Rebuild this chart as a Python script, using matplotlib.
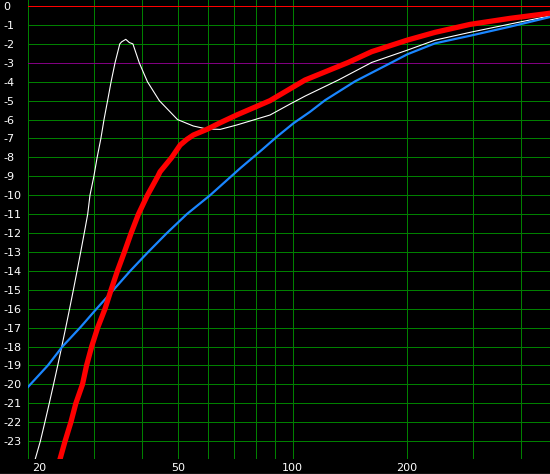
import matplotlib
matplotlib.use('Agg')
import matplotlib.pyplot as plt
import matplotlib.transforms as mtransforms
from matplotlib.lines import Line2D

# frequency (Hz) / level (dB)
white_f = [20.9, 21.6, 22.2, 22.8, 23.4, 24.0, 24.6, 25.2, 25.8, 26.4, 27.0, 27.6,
           28.2, 28.8, 29.2, 29.9, 30.5, 31.2, 31.8, 32.5, 33.2, 34.0, 35.0, 35.4,
           36.3, 37.1, 37.9, 39.4, 41.4, 44.5, 47.5, 49.7, 54.7, 59.4, 64.4, 71.2,
           87.2, 98.5, 107.9, 132.1, 161.8, 200.9, 237.7, 294, 375, 478]
white_db = [-24, -23, -22, -21, -20, -19, -18, -17, -16, -15, -14, -13,
            -12, -11, -10, -9, -8, -7, -6, -5, -4, -3, -2, -1.89,
            -1.76, -1.93, -2, -3, -4, -5, -5.59, -6, -6.34, -6.5, -6.52, -6.29,
            -5.76, -5.18, -4.76, -3.91, -2.98, -2.33, -1.8, -1.39, -0.95, -0.52]

red_f = [24.3, 25.1, 26.0, 26.8, 27.9, 28.6, 29.5, 30.6, 32.0, 33.2, 34.5, 36.0,
         37.5, 39.2, 41.4, 44.1, 44.7, 48.0, 50.5, 52.6, 54.7, 59.4, 64.4, 71.2,
         87.2, 107.9, 140.3, 161.8, 200.9, 237.7, 294, 375, 478]
red_db = [-24, -23, -22, -21, -20, -19, -18, -17, -16, -15, -14, -13,
          -12, -11, -10, -9, -8.76, -8, -7.35, -7.05, -6.82, -6.52, -6.17, -5.76,
          -5.0, -3.91, -2.98, -2.41, -1.8, -1.39, -0.97, -0.65, -0.38]

blue_f = [19.9, 22.6, 24.7, 27.5, 30.4, 33.7, 37.3, 41.6, 46.6, 52.6, 60.6, 72.7,
          82.9, 90.9, 100.5, 111.2, 121.8, 146.2, 182.7, 200.9, 237.7, 294, 375, 478]
blue_db = [-20.2, -19, -18, -17, -16, -15, -14, -13, -12, -11, -10, -8.58,
           -7.61, -6.91, -6.2, -5.59, -4.98, -3.98, -2.98, -2.55, -1.97, -1.57, -1.09, -0.58]

x_grid = [20, 30, 40, 50, 60, 70, 80, 90, 100, 200, 300, 400]
x_ticks = [20, 50, 100, 200]
y_ticks = list(range(0, -24, -1))

GREEN = '#008000'

fig = plt.figure(figsize=(5.5, 4.74), dpi=100, facecolor='black')
ax = fig.add_axes([27.7 / 550, 14.7 / 474, 1 - 27.7 / 550, 459.3 / 474])
ax.set_facecolor('black')
ax.set_xscale('log')
ax.set_xlim(20.0, 478)
ax.set_ylim(-23.96, 0.32)

for f in x_grid:
    ax.axvline(f, color=GREEN, lw=0.72, antialiased=False, zorder=1)
for d in range(-1, -25, -1):
    c = '#800080' if d == -3 else GREEN
    ax.axhline(d, color=c, lw=0.72, antialiased=False, zorder=1)
ax.axhline(0, color='#ff0000', lw=0.72, antialiased=False, zorder=1)

ax.plot(white_f, white_db, color='white', lw=0.8, zorder=3)
ax.plot(blue_f, blue_db, color='#1a86ff', lw=1.6, zorder=4)
ax.plot(red_f, red_db, color='#ff0000', lw=3.8, zorder=5, solid_joinstyle='round')

for s in ax.spines.values():
    s.set_visible(False)

ax.set_xticks(x_ticks)
ax.set_xticklabels([str(t) for t in x_ticks])
ax.minorticks_off()
ax.set_yticks(y_ticks)
ax.set_yticklabels([str(t) for t in y_ticks])
ax.tick_params(axis='both', length=0, colors='white', labelsize=8)
ax.tick_params(axis='x', pad=2.5)
ax.tick_params(axis='y', pad=17.8)
for lab in ax.get_yticklabels():
    lab.set_horizontalalignment('left')
first = ax.get_xticklabels()[0]
first.set_transform(first.get_transform() +
                    mtransforms.ScaledTranslation(11 / 100, 0, fig.dpi_scale_trans))

fig.add_artist(Line2D([0, 1], [0.5 / 474, 0.5 / 474], color='#5a5a5a', lw=1.0,
                      transform=fig.transFigure))

fig.savefig('out.png', dpi=100, facecolor='black')
